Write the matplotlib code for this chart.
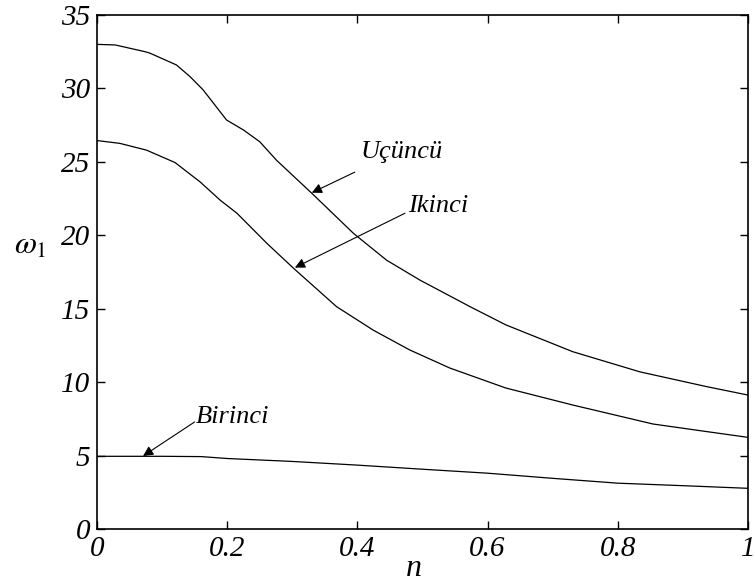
import matplotlib
matplotlib.use("Agg")
import matplotlib.pyplot as plt

# Natural frequency curves vs. power-law index n
n_third = [0.0, 0.028, 0.074, 0.0814, 0.122, 0.143, 0.163, 0.179, 0.199, 0.225, 0.25,
           0.276, 0.33, 0.394, 0.445, 0.496, 0.573, 0.628, 0.731, 0.834, 0.937, 1.0]
w_third = [33.0, 32.96, 32.5, 32.4, 31.6, 30.8, 29.9, 28.99, 27.85, 27.17, 26.37,
           25.1, 22.86, 20.13, 18.3, 16.95, 15.14, 13.9, 12.07, 10.7, 9.69, 9.12]

n_second = [0.0, 0.035, 0.076, 0.12, 0.138, 0.158, 0.189, 0.215, 0.261, 0.302, 0.368,
            0.424, 0.48, 0.542, 0.628, 0.731, 0.854, 0.937, 1.0]
w_second = [26.45, 26.26, 25.8, 24.95, 24.33, 23.65, 22.4, 21.5, 19.45, 17.75, 15.14,
            13.55, 12.2, 10.96, 9.6, 8.44, 7.15, 6.63, 6.24]

n_first = [0.0, 0.1, 0.16, 0.2, 0.3, 0.4, 0.5, 0.6, 0.7, 0.8, 0.9, 1.0]
w_first = [4.95, 4.95, 4.93, 4.8, 4.6, 4.35, 4.07, 3.8, 3.45, 3.12, 2.95, 2.77]

x_ticks = [0, 0.2, 0.4, 0.6, 0.8, 1]
x_tick_labels = ["0", "0.2", "0.4", "0.6", "0.8", "1"]
y_ticks = [0, 5, 10, 15, 20, 25, 30, 35]

serif = ["Liberation Serif", "DejaVu Serif"]

fig = plt.figure(figsize=(7.55, 5.81), dpi=100)
ax = fig.add_axes([97 / 755, 52 / 581, 651 / 755, 514 / 581])

for xs, ys in [(n_third, w_third), (n_second, w_second), (n_first, w_first)]:
    ax.plot(xs, ys, color="black", lw=0.9)

ax.set_xlim(0, 1)
ax.set_ylim(0, 35)
ax.set_xticks(x_ticks)
ax.set_xticklabels(x_tick_labels)
ax.set_yticks(y_ticks)
ax.tick_params(direction="in", length=6, width=1, top=True, right=True,
               labelsize=21, pad=5)
for lab in ax.get_xticklabels() + ax.get_yticklabels():
    lab.set_family(serif)
    lab.set_style("italic")
for sp in ax.spines.values():
    sp.set_linewidth(1.2)

arrow = dict(arrowstyle="-|>", color="black", lw=0.8, mutation_scale=15,
             shrinkA=0, shrinkB=0)
txt = dict(family=serif, style="italic", fontsize=19, va="center", ha="left")

ax.annotate("", xy=(0.330, 22.9), xytext=(0.396, 24.3), arrowprops=arrow)
ax.text(0.405, 25.7, "Uçüncü", **txt)

ax.annotate("", xy=(0.304, 17.8), xytext=(0.473, 21.5), arrowprops=arrow)
ax.text(0.478, 22.0, "Ikinci", **txt)

ax.annotate("", xy=(0.0707, 4.97), xytext=(0.150, 7.29), arrowprops=arrow)
ax.text(0.151, 7.6, "Birinci", **txt)

fig.text(414 / 755, 1 - 568 / 581, "n", family=serif, style="italic",
         fontsize=23, ha="center", va="center")
fig.text(30 / 755, 1 - 245 / 581, r"$\omega_{1}$", fontsize=23,
         ha="center", va="center",
         math_fontfamily="stix")

fig.savefig("out.png", dpi=100)
